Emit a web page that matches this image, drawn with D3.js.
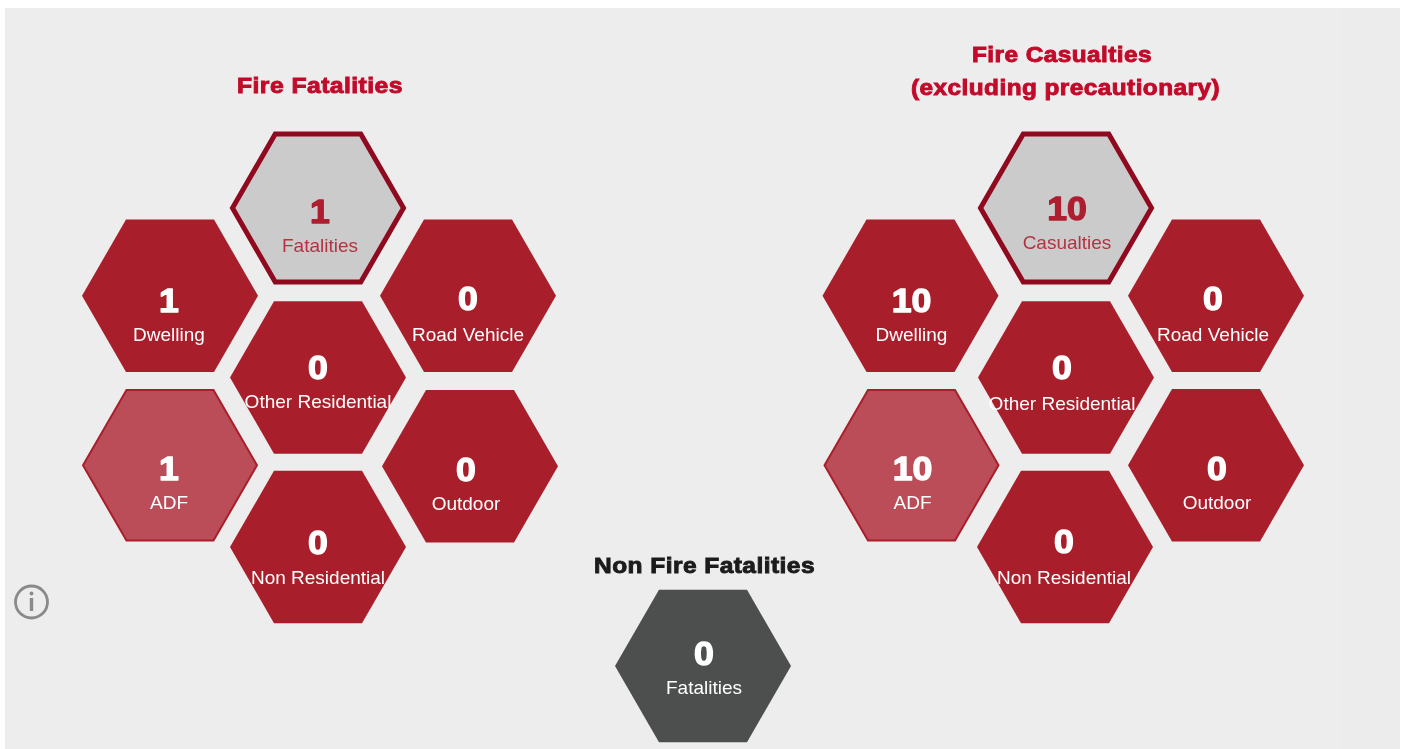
<!DOCTYPE html>
<html><head><meta charset="utf-8">
<script src="https://cdn.jsdelivr.net/npm/d3@7/dist/d3.min.js"></script>
<style>
html,body{margin:0;padding:0;background:#fff;overflow:hidden}
svg{display:block;filter:blur(.35px)}
text{font-family:"Liberation Sans",Arial,sans-serif;text-anchor:middle}
.num{font-weight:700;font-size:33px;stroke-width:1.3px;stroke-linejoin:round}
.lab{font-size:19px}
.title{font-weight:700;font-size:22px;stroke-width:.9px;letter-spacing:.4px}
</style></head><body>
<script>
// ---- data ----
const fatalityLabels  = ["Fatalities","Dwelling","Road Vehicle","Other Residential","ADF","Outdoor","Non Residential"];
const fatalityValues  = [1,1,0,0,1,0,0];
const casualtyLabels  = ["Casualties","Dwelling","Road Vehicle","Other Residential","ADF","Outdoor","Non Residential"];
const casualtyValues  = [10,10,0,0,10,0,0];
const nonFireLabels   = ["Fatalities"];
const nonFireValues   = [0];
const hexKinds        = ["total","solid","solid","solid","soft","solid","solid"];

// ---- layout: grid slots, per-cell nudges [cell dx, cell dy, text dx, number dy, label dy] ----
const W=1405,H=749;
const slotCol=[1,0,2,1,0,2,1], slotRow=[0,1,1,2,3,3,4];
const fatalNudge=[[-1,0,2,3,37],[0,3,-1,5,39],[0,3,0,3,39],[-1,0,0,-10.5,23.5],[0,3,-1,3,37],[2,4,-4,3,37],[-1,0,0,-5,30]];
const casNudge  =[[2.5,0,1,0,34],[-0.5,3,1,5,39],[0,3,-3,3,39],[2.5,0,-4,-10,25.5],[.5,3,1,3,37],[0,3,1,3,37],[1.5,0,-1,-6,30]];
const palette={
 total:{fill:"#cbcbcb",stroke:"#8f0a1e",sw:5,num:"#ad1f30",lab:"#b23443"},
 solid:{fill:"#a81f2b",stroke:"none",sw:0,num:"#fff",lab:"#fff"},
 soft :{fill:"#ba4d58",stroke:"#a81f2b",sw:2,num:"#fff",lab:"#fff"},
 dark :{fill:"#4d4e4e",stroke:"none",sw:0,num:"#fff",lab:"#fff"}
};

const svg=d3.select("body").append("svg").attr("width",W).attr("height",H);
svg.append("rect").attr("x",5).attr("y",8).attr("width",1395).attr("height",741).attr("fill","#ededed");
svg.append("rect").attr("x",1340).attr("y",8).attr("width",60).attr("height",741).attr("fill","#ececec");

const R=88;
const hexLine=d3.line().curve(d3.curveLinearClosed);
function hexPath(r){return hexLine(d3.range(6).map(i=>{const a=i*Math.PI/3;return [r*Math.cos(a),r*Math.sin(a)];}));}

function drawHex(g,cx,cy,num,lab,kind,textDx,numDy,labDy){
  const p=palette[kind];
  const n=g.append("g").attr("transform",`translate(${cx},${cy})`);
  n.append("path").attr("d",hexPath(R-p.sw/2)).attr("fill",p.fill)
   .attr("stroke",p.stroke).attr("stroke-width",p.sw).attr("stroke-linejoin","miter");
  const t=n.append("text").attr("class","num").attr("x",textDx).attr("y",numDy+11.5).attr("fill",p.num).attr("stroke",p.num).text(num);
  t.attr("textLength",t.node().getComputedTextLength()*1.08).attr("lengthAdjust","spacingAndGlyphs");
  n.append("text").attr("class","lab").attr("x",textDx).attr("y",labDy+6.5).attr("fill",p.lab).text(lab);
}

function panel(labels,values,xRange,nudges){
  const x=d3.scaleLinear().domain([0,2]).range(xRange);
  const y=d3.scaleLinear().domain([0,4]).range([208,547]);
  const g=svg.append("g");
  labels.forEach((l,i)=>{
    const nd=nudges[i];
    drawHex(g,x(slotCol[i])+nd[0],y(slotRow[i])+nd[1],values[i],l,hexKinds[i],nd[2],nd[3],nd[4]);
  });
}
panel(fatalityLabels,fatalityValues,[170,468],fatalNudge);
panel(casualtyLabels,casualtyValues,[911,1216],casNudge);
drawHex(svg.append("g"),703,666,nonFireValues[0],nonFireLabels[0],"dark",1,-13,21);

// titles
const red="#c20a2a";
function title(t,x,y,c,len){svg.append("text").attr("class","title").attr("x",x).attr("y",y).attr("fill",c).attr("stroke",c)
  .attr("textLength",len).attr("lengthAdjust","spacingAndGlyphs").text(t);}
title("Fire Fatalities",320,93,red,166);
title("Fire Casualties",1062,62,red,180);
title("(excluding precautionary)",1065.5,95,red,309);
title("Non Fire Fatalities",704.5,573,"#1c1c1c",221);

// info icon
const info=svg.append("g").attr("transform","translate(31.5,602)");
info.append("circle").attr("r",16).attr("fill","none").attr("stroke","#8a8a8a").attr("stroke-width",2.8);
info.append("rect").attr("x",-1.7).attr("y",-4).attr("width",3.4).attr("height",13).attr("fill","#8a8a8a");
info.append("circle").attr("cy",-8.5).attr("r",1.9).attr("fill","#8a8a8a");
</script></body></html>
